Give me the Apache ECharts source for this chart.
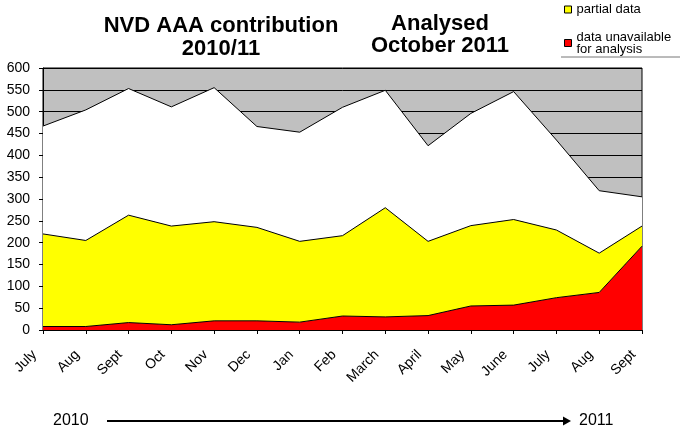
<!DOCTYPE html>
<html>
<head>
<meta charset="utf-8">
<script src="https://cdn.jsdelivr.net/npm/echarts@6/dist/echarts.min.js"></script>
<style>
  html, body { margin: 0; padding: 0; background: #fff; }
  #chart { width: 680px; height: 434px; }
</style>
</head>
<body>
<div id="chart"></div>
<script>
const months = ['July', 'Aug', 'Sept', 'Oct', 'Nov', 'Dec', 'Jan', 'Feb', 'March', 'April', 'May', 'June', 'July', 'Aug', 'Sept'];
const unavailable = [8, 8, 17, 12, 21, 21, 18, 32, 30, 33, 55, 57, 74, 86, 192];
const partial = [212, 197, 246, 226, 227, 214, 185, 184, 250, 170, 184, 196, 155, 90, 46];
const complete = [247, 299, 290, 273, 307, 231, 250, 294, 269, 219, 257, 293, 206, 143, 67];

const font = 'Arial, "Liberation Sans", sans-serif';
const chart = echarts.init(document.getElementById('chart'));

function areaSeries(name, data, color) {
  return {
    name,
    type: 'line',
    stack: 'total',
    data,
    symbol: 'none',
    lineStyle: { color: '#000', width: 1 },
    itemStyle: { color },
    areaStyle: { color, opacity: 1 },
  };
}

chart.setOption({
  animation: false,
  textStyle: { fontFamily: font },
  title: [
    {
      text: 'NVD AAA contribution\n2010/11',
      left: 216, top: 9, textAlign: 'center',
      textStyle: { fontSize: 22, fontWeight: 'bold', color: '#000', lineHeight: 23, fontFamily: font },
    },
    {
      text: 'Analysed\nOctober 2011',
      left: 435, top: 8, textAlign: 'center',
      textStyle: { fontSize: 22, fontWeight: 'bold', color: '#000', lineHeight: 22, fontFamily: font },
    },
  ],
  legend: {
    orient: 'vertical',
    left: 564, top: 3, padding: 0,
    itemWidth: 7, itemHeight: 7, itemGap: 9,
    icon: 'rect',
    data: [
      { name: 'partial data', itemStyle: { borderColor: '#000', borderWidth: 1 } },
      {
        name: 'data unavailable\nfor analysis',
        itemStyle: { borderColor: '#000', borderWidth: 1 },
        textStyle: { padding: [12, 0, 0, 0] },
      },
    ],
    textStyle: { fontSize: 13, color: '#000', lineHeight: 12, fontFamily: font },
  },
  grid: {
    left: 43, right: 38, top: 68, bottom: 104,
    show: true, backgroundColor: '#c0c0c0', borderColor: '#000', borderWidth: 1,
  },
  xAxis: {
    type: 'category',
    data: months,
    boundaryGap: false,
    axisLine: { lineStyle: { color: '#000', width: 1 } },
    axisTick: { show: true, length: 4, lineStyle: { color: '#000' } },
    axisLabel: {
      interval: 0, rotate: 45, fontSize: 14, color: '#000', margin: 14,
      padding: [0, 12, 0, 0], fontFamily: font,
    },
    splitLine: { show: false },
  },
  yAxis: {
    type: 'value',
    min: 0, max: 600, interval: 50,
    axisLine: { show: true, lineStyle: { color: '#000', width: 1 } },
    axisTick: { show: true, length: 4, lineStyle: { color: '#000' } },
    axisLabel: { fontSize: 14, color: '#000', margin: 13, fontFamily: font },
    splitLine: { show: true, lineStyle: { color: '#000', width: 1 } },
  },
  series: [
    areaSeries('data unavailable\nfor analysis', unavailable, '#ff0000'),
    areaSeries('partial data', partial, '#ffff00'),
    areaSeries('complete data', complete, '#ffffff'),
  ],
  graphic: [
    { type: 'line', shape: { x1: 561, y1: 57, x2: 680, y2: 57 }, style: { stroke: '#777', lineWidth: 1 } },
    { type: 'text', left: 53, top: 413, style: { text: '2010', fill: '#000', font: '16px ' + font } },
    { type: 'line', shape: { x1: 107, y1: 421, x2: 564, y2: 421 }, style: { stroke: '#000', lineWidth: 2 } },
    { type: 'polygon', shape: { points: [[563, 416.5], [571, 421], [563, 425.5]] }, style: { fill: '#000' } },
    { type: 'text', left: 579, top: 413, style: { text: '2011', fill: '#000', font: '16px ' + font } },
  ],
});
</script>
</body>
</html>
